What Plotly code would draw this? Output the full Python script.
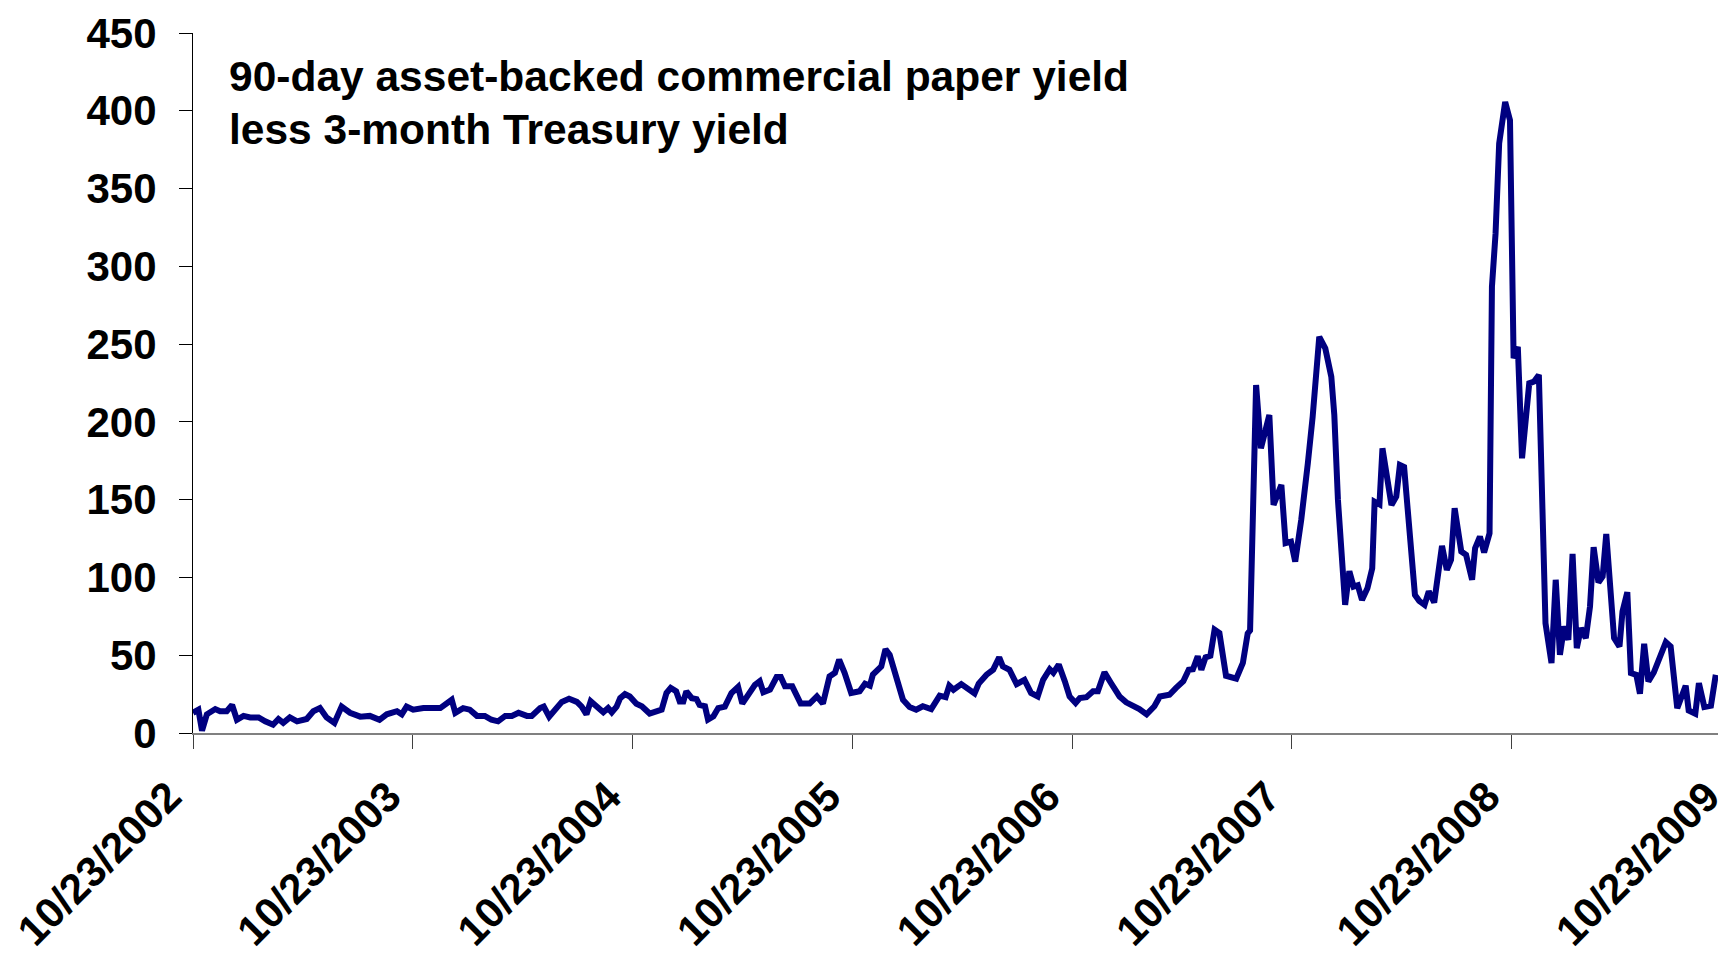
import datetime as dt
import plotly.graph_objects as go

# ---- data ----
start_date = dt.date(2002, 10, 23)

# observation dates, as days after 10/23/2002
days_from_start = [
    0, 9, 15, 23, 37, 45, 56, 65, 73, 84, 95, 109, 120, 133, 142, 150, 161, 173, 189, 200,
    211, 222, 235, 247, 261, 278, 294, 310, 322, 339, 347, 355, 366, 383, 411, 422, 430, 436, 449, 460,
    472, 485, 496, 507, 519, 530, 541, 555, 563, 577, 583, 592, 604, 613, 625, 638, 646, 654, 661, 671,
    682, 690, 696, 704, 710, 718, 726, 737, 746, 759, 771, 779, 787, 794, 803, 809, 815, 820, 829, 837,
    842, 851, 856, 865, 873, 884, 895, 906, 913, 926, 934, 942, 948, 959, 970, 977, 984, 996, 1010, 1025,
    1037, 1047, 1058, 1067, 1074, 1083, 1094, 1108, 1117, 1125, 1130, 1144, 1151, 1158, 1169, 1180, 1191, 1202, 1213, 1227,
    1241, 1251, 1257, 1264, 1277, 1288, 1299, 1306, 1319, 1330, 1340, 1346, 1357, 1369, 1382, 1393, 1404, 1413, 1424, 1430,
    1439, 1449, 1457, 1467, 1474, 1485, 1496, 1504, 1515, 1526, 1540, 1551, 1565, 1573, 1585, 1598, 1607, 1623, 1634, 1646,
    1655, 1662, 1670, 1676, 1683, 1691, 1698, 1706, 1717, 1734, 1745, 1753, 1757, 1767, 1775, 1789, 1796, 1809, 1816, 1825,
    1832, 1842, 1853, 1861, 1872, 1882, 1892, 1897, 1903, 1911, 1915, 1922, 1929, 1936, 1943, 1952, 1960, 1964, 1972, 1977,
    1986, 1992, 2000, 2006, 2013, 2022, 2031, 2038, 2047, 2054, 2063, 2076, 2084, 2091, 2097, 2108, 2116, 2126, 2131, 2139,
    2146, 2155, 2159, 2165, 2171, 2181, 2189, 2195, 2202, 2209, 2221, 2229, 2237, 2248, 2258, 2265, 2272, 2279, 2286, 2293,
    2300, 2307, 2315, 2322, 2328, 2336, 2343, 2349, 2362, 2371, 2376, 2384, 2390, 2399, 2405, 2412, 2419, 2428, 2437, 2448,
    2456, 2467, 2481, 2486, 2497, 2503, 2512, 2523, 2531,
]

# spread, basis points
spread_bp = [
    13, 15, 1.5, 12, 15.4, 14, 14, 18, 8.5, 11, 10, 10, 7.5, 5.3, 9, 6.5, 10, 7.5, 9, 14,
    16, 10, 6.5, 17, 13, 10.5, 11, 8.5, 12, 14, 12, 17, 15, 16, 16, 19.7, 21.4, 13, 16, 15,
    11, 11, 8.5, 7.5, 11, 11, 13, 11, 11, 16, 17, 10.5, 16, 20, 22, 20, 17, 12, 20.4, 17.2,
    13.3, 16, 13.3, 17, 22.4, 25, 23.5, 18.8, 17.2, 12.5, 14.6, 15, 25.7, 29, 26.8, 20.3, 20.3, 26.8, 22.4, 21.8,
    18, 17.2, 8.6, 10.7, 16, 17, 25.7, 29.6, 18.9, 25.7, 31, 33.3, 26.2, 27.9, 36, 36, 30, 30, 18.9, 18.9,
    23.5, 18.9, 36.4, 38.7, 47.1, 38.7, 25.7, 26.8, 31.7, 30.4, 37.5, 42.8, 53.9, 50.2, 34.2, 21.4, 16.7, 15, 17.2, 15.4,
    24, 23, 30.4, 27.8, 31.4, 28, 25.4, 31.8, 37.5, 40.7, 48.6, 42.8, 40.7, 31.4, 34.2, 25.7, 23.5, 34.2, 41, 38.7,
    44, 33.3, 23.5, 19.3, 22.5, 23, 26.8, 26.8, 39, 32, 23.5, 19.7, 17.2, 15.4, 12, 17.2, 23.5, 24.6, 29, 33.3,
    40.7, 41, 49.3, 40.7, 48.6, 49.7, 66.4, 64.3, 36.8, 35, 45, 64, 66, 223.7, 183, 204.4, 146.6, 159.5, 122, 123,
    110.2, 137, 173.4, 203.3, 254.7, 247.3, 229, 204.4, 150, 107, 82.4, 104, 94.1, 95, 85.5, 93, 105.8, 148.7, 147, 183,
    157, 146.6, 152, 172.3, 171, 132.6, 88.8, 85, 82.4, 91, 83.9, 120.3, 104.9, 111.3, 144.5, 116.7, 114.5, 98.5, 118.8, 126.3,
    116, 128.4, 286.8, 321, 379, 405.7, 394, 241, 248.3, 176.6, 224.8, 225.9, 230.2, 70.6, 45, 98.5, 50.3, 68.5, 59.9, 115.2,
    54.6, 67.4, 61, 81.3, 119.4, 96.8, 100.6, 128, 61, 55.6, 78.1, 90.5, 38.5, 37.4, 25.2, 57.4, 33.2, 38.9, 48.2, 58.4,
    55.6, 16, 30.4, 14.5, 12.4, 32.1, 16.7, 17.5, 37.4,
]

tick_dates = ["2002-10-23", "2003-10-23", "2004-10-23", "2005-10-23",
              "2006-10-23", "2007-10-23", "2008-10-23", "2009-10-23"]
tick_labels = ["10/23/2002", "10/23/2003", "10/23/2004", "10/23/2005",
               "10/23/2006", "10/23/2007", "10/23/2008", "10/23/2009"]
y_ticks = [0, 50, 100, 150, 200, 250, 300, 350, 400, 450]

title_lines = ["90-day asset-backed commercial paper yield",
               "less 3-month Treasury yield"]

dates = [start_date + dt.timedelta(days=d) for d in days_from_start]

FONT = "Liberation Sans, Arial, Helvetica, sans-serif"

fig = go.Figure()
fig.add_trace(go.Scatter(
    x=dates, y=spread_bp, mode="lines",
    line=dict(color="#000080", width=6),
    showlegend=False, hoverinfo="x+y",
))

fig.update_layout(
    template="none",
    width=1740, height=954,
    margin=dict(l=193, r=8, t=33, b=221, autoexpand=False),
    paper_bgcolor="white", plot_bgcolor="white",
    font=dict(family=FONT, color="black", size=42, weight="bold"),
    showlegend=False,
)

fig.update_xaxes(
    type="date",
    range=["2002-10-23", "2009-10-24"],
    tickmode="array", tickvals=tick_dates, ticktext=tick_labels,
    tickangle=-45,
    tickfont=dict(family=FONT, size=42, color="black", weight="bold"),
    ticks="outside", ticklen=14, tickwidth=1, tickcolor="#404040",
    showline=True, linecolor="#808080", linewidth=2,
    showgrid=False, zeroline=False, automargin=False,
    ticklabelshift=-24, ticklabelstandoff=6,
)

fig.update_yaxes(
    range=[0, 450],
    tickmode="array", tickvals=y_ticks,
    tickfont=dict(family=FONT, size=42, color="black", weight="bold"),
    ticks="outside", ticklen=13, tickwidth=1, tickcolor="black",
    showline=True, linecolor="black", linewidth=1,
    showgrid=False, zeroline=False, automargin=False,
    ticklabelstandoff=14,
)

for i, line in enumerate(title_lines):
    fig.add_annotation(
        xref="paper", yref="paper",
        x=(227 - 193) / 1539.0, y=1 - (i * 52.5 + 44) / 700.0,
        text=line, showarrow=False, xanchor="left", yanchor="middle",
        font=dict(family=FONT, size=42.5, color="black", weight="bold"),
    )

fig.write_html(
    "out.html",
    config={"displayModeBar": False},
    post_script="document.body.style.margin='0';document.body.style.overflow='hidden';",
)
